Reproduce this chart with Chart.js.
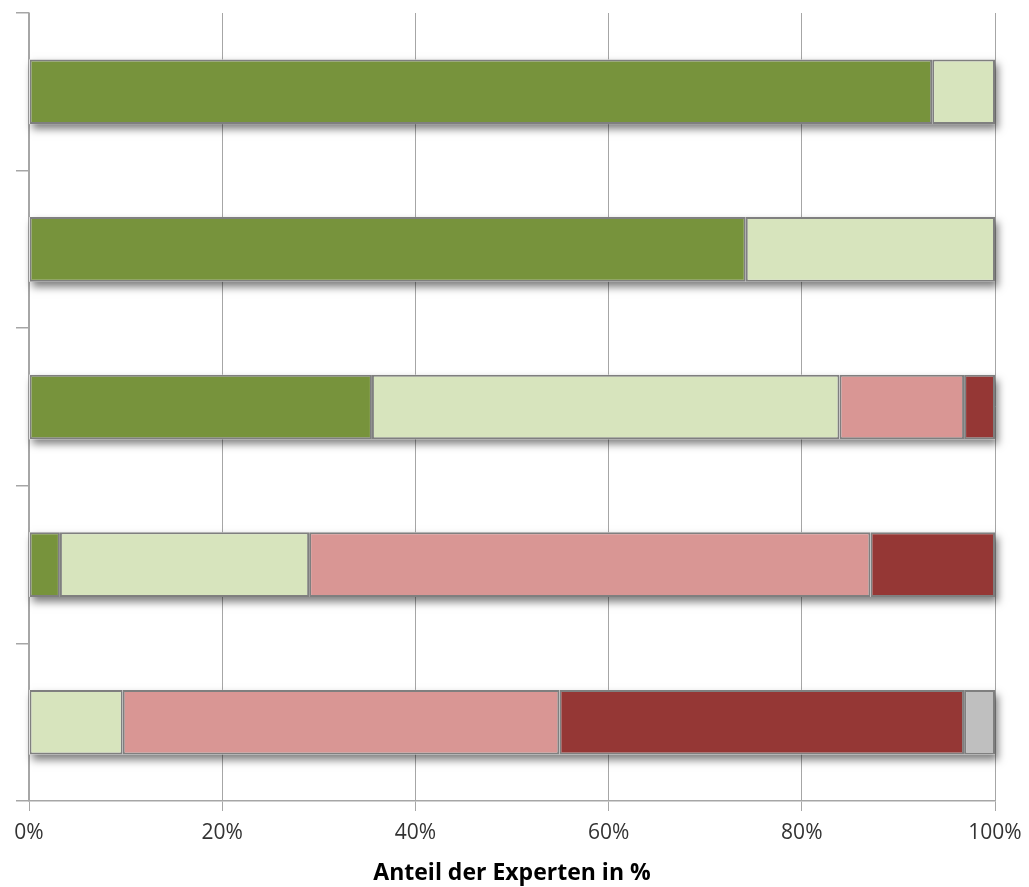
<!DOCTYPE html>
<html>
<head>
<meta charset="utf-8">
<script src="https://cdn.jsdelivr.net/npm/chart.js@4/dist/chart.umd.min.js"></script>
<style>
  html, body { margin: 0; padding: 0; background: #fff; }
  #wrap { width: 1029px; height: 887px; position: relative; }
</style>
</head>
<body>
<div id="wrap"><canvas id="expertChart"></canvas></div>
<script>
// Kategorien ohne Beschriftung (wie im Original)
const categories = ['', '', '', '', ''];
const xTicks = [0, 20, 40, 60, 80, 100];

// Anteile in % je Antwortklasse
const dunkelgruen = [93.5, 74.2, 35.5, 3.2, 0];
const hellgruen   = [6.5, 25.8, 48.4, 25.8, 9.7];
const rosa        = [0, 0, 12.9, 58.1, 45.2];
const dunkelrot   = [0, 0, 3.2, 12.9, 41.9];
const grau        = [0, 0, 0, 0, 3.2];

const seriesNames  = ['Serie 1', 'Serie 2', 'Serie 3', 'Serie 4', 'Serie 5'];
const seriesData   = [dunkelgruen, hellgruen, rosa, dunkelrot, grau];
const seriesColors = ['#77933C', '#D7E4BD', '#D99694', '#953735', '#BFBFBF'];

// Schatten unter den Balken
const barShadow = {
    id: 'barShadow',
    beforeDatasetsDraw(chart) {
        const ctx = chart.ctx;
        const xs = chart.scales.x;
        const meta = chart.getDatasetMeta(0);
        ctx.save();
        ctx.shadowColor = 'rgba(0,0,0,0.5)';
        ctx.shadowBlur = 8;
        ctx.shadowOffsetX = 3;
        ctx.shadowOffsetY = 5;
        ctx.fillStyle = '#ffffff';
        meta.data.forEach(bar => {
            const x0 = xs.getPixelForValue(0);
            const x1 = xs.getPixelForValue(100);
            ctx.fillRect(x0, bar.y - bar.height / 2, x1 - x0, bar.height);
        });
        ctx.restore();
    }
};

const ctx = document.getElementById('expertChart');
new Chart(ctx.getContext('2d'), {
    type: 'bar',
    data: {
        labels: categories,
        datasets: seriesData.map((d, i) => ({
            label: seriesNames[i],
            data: d,
            backgroundColor: seriesColors[i],
            borderColor: '#7F7F7F',
            borderWidth: 2,
            borderSkipped: false,
            barPercentage: 0.41,
            categoryPercentage: 1
        }))
    },
    options: {
        indexAxis: 'y',
        responsive: true,
        maintainAspectRatio: false,
        animation: false,
        layout: { padding: { top: 13, right: 34, bottom: 0, left: 0 } },
        scales: {
            x: {
                stacked: true,
                min: 0,
                max: 100,
                afterBuildTicks: s => { s.ticks = xTicks.map(v => ({ value: v })); },
                afterFit: s => { s.height = 86; s.paddingLeft = 0; s.paddingRight = 0; },
                grid: { color: '#A6A6A6', lineWidth: 1, tickLength: 10 },
                border: { color: '#A6A6A6', width: 1.5 },
                ticks: {
                    padding: 9,
                    color: '#333333',
                    font: { family: 'Open Sans', size: 21 },
                    maxRotation: 0,
                    callback: v => v + '%'
                },
                title: {
                    display: true,
                    text: 'Anteil der Experten in %',
                    color: '#000000',
                    font: { family: 'Open Sans', size: 23, weight: 'bold', lineHeight: 1.15 },
                    padding: { top: 0, bottom: 0 }
                }
            },
            y: {
                stacked: true,
                afterFit: s => { s.width = 29; },
                grid: { drawOnChartArea: false, offset: true, tickLength: 13, color: '#A6A6A6', lineWidth: 1.5 },
                border: { color: '#A6A6A6', width: 1.5 },
                ticks: { display: false }
            }
        },
        plugins: {
            legend: { display: false },
            tooltip: { enabled: false }
        }
    },
    plugins: [barShadow]
});
</script>
</body>
</html>
